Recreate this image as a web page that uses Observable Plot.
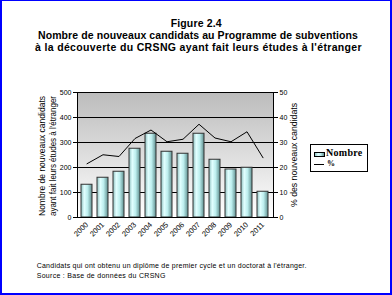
<!DOCTYPE html>
<html><head><meta charset="utf-8">
<script src="https://cdn.jsdelivr.net/npm/d3@7"></script>
<script src="https://cdn.jsdelivr.net/npm/@observablehq/plot@0.6"></script>
<style>
body{margin:0;background:#fff;}
#wrap{position:relative;width:392px;height:295px;overflow:hidden;font-family:"Liberation Sans",Arial,sans-serif;background:#fff;}
#chart{position:absolute;left:0;top:0;}
#border{position:absolute;left:0;top:0;width:392px;height:295px;box-sizing:border-box;border:2px solid #0000ff;border-top-width:1px;pointer-events:none;}
.t{position:absolute;font-weight:bold;font-size:10.5px;line-height:12px;color:#000;white-space:nowrap;}
.c{position:absolute;font-size:7px;line-height:8px;color:#000;white-space:nowrap;}
#legend{position:absolute;left:310px;top:144px;width:56px;height:26px;border:1px solid #000;background:#fff;}
.lg{position:absolute;font-family:"Liberation Serif","Times New Roman",serif;font-weight:bold;color:#000;white-space:nowrap;}
</style>
</head><body>
<div id="wrap">
  <div id="chart"></div>
  <div class="t" id="t1" data-x="170.7" data-w="51" style="top:16.5px">Figure 2.4</div>
  <div class="t" id="t2" data-x="38" data-w="320" style="top:29px">Nombre de nouveaux candidats au Programme de subventions</div>
  <div class="t" id="t3" data-x="35" data-w="327" style="top:40.5px">à la découverte du CRSNG ayant fait leurs études à l'étranger</div>
  <div class="c" id="c1" data-x="36.7" data-w="270" style="top:262px">Candidats qui ont obtenu un diplôme de premier cycle et un doctorat à l'étranger.</div>
  <div class="c" id="c2" data-x="36.7" data-w="129" style="top:272px">Source : Base de données du CRSNG</div>
  <div id="legend">
    <div style="position:absolute;left:3px;top:7px;width:9px;height:3px;border:1px solid #000;background:linear-gradient(90deg,#8fc0c0,#e0ffff 35%,#b8eaea 65%,#5f8f8f);"></div>
    <span class="lg" style="left:15px;top:2px;font-size:10px;letter-spacing:0.3px;line-height:12px;">Nombre</span>
    <div style="position:absolute;left:3px;top:19px;width:10px;height:1px;background:#000;"></div>
    <span class="lg" style="left:16px;top:14px;font-size:8px;line-height:10px;">%</span>
  </div>
  <div id="border"></div>
</div>
<script>
const years = ["2000","2001","2002","2003","2004","2005","2006","2007","2008","2009","2010","2011"];
const nombre = [131,159,183,275,335,263,255,335,231,192,199,103];
const pct = [21.5,25.1,24.4,31.6,35.0,30.3,31.3,37.3,31.8,30.3,34.3,23.9];
const leftTicks = [0,100,200,300,400,500];
const rightTickLabels = [0,10,20,30,40,50];

const data = years.map((y,i)=>({year:y, nombre:nombre[i], pct:pct[i]}));
const pctScale = 500/50;

const chart = Plot.plot({
  width: 392, height: 295,
  marginLeft: 77, marginRight: 119, marginTop: 92, marginBottom: 78,
  style: {fontFamily: "Liberation Sans, Arial, sans-serif", fontSize: "7px", background: "transparent", overflow: "visible"},
  x: {type: "band", domain: years, paddingInner: 0.3, paddingOuter: 0.15},
  y: {domain: [0, 500]},
  marks: [
    Plot.frame({fill: "url(#bgGrad)", stroke: null}),
    Plot.ruleY(leftTicks, {stroke: "#000", strokeWidth: 1}),
    Plot.barY(data, {x: "year", y: "nombre", fill: "url(#barGrad)", stroke: "#333", strokeWidth: 1}),
    Plot.line(data, {x: "year", y: d => d.pct * pctScale, stroke: "#000", strokeWidth: 1}),
    Plot.frame({stroke: "#000", strokeWidth: 1}),
    Plot.axisY({anchor: "left", ticks: leftTicks, tickSize: 4, tickPadding: 2, label: null, fontSize: 7}),
    Plot.axisY({anchor: "right", ticks: leftTicks, tickFormat: (d,i) => String(rightTickLabels[i]), tickSize: 4, tickPadding: 2, label: null, fontSize: 7}),
    Plot.axisX({anchor: "bottom", tickSize: 0, tickPadding: 6, tickRotate: -45, label: null, fontSize: 7.5})
  ]
});
document.getElementById("chart").appendChild(chart);

const svg = d3.select(chart);
const defs = svg.insert("defs", ":first-child");
const bg = defs.append("linearGradient").attr("id","bgGrad").attr("x1",0).attr("y1",0).attr("x2",0).attr("y2",1);
bg.append("stop").attr("offset","0%").attr("stop-color","#bcbcbc");
bg.append("stop").attr("offset","100%").attr("stop-color","#ffffff");
const bar = defs.append("linearGradient").attr("id","barGrad").attr("x1",0).attr("y1",0).attr("x2",1).attr("y2",0);
[["0%","#8fc0c0"],["30%","#e2ffff"],["60%","#bdeeee"],["100%","#5f8f8f"]].forEach(([o,c])=>bar.append("stop").attr("offset",o).attr("stop-color",c));

// axis titles
const yTitle = ["Nombre de nouveaux candidats", "ayant fait leurs études à l'étranger"];
const yTitleX = [41.7, 52.7];
yTitle.forEach((t,i)=>{
  svg.append("text").attr("transform",`translate(${yTitleX[i]},156) rotate(-90)`)
    .attr("text-anchor","middle").attr("dominant-baseline","central")
    .attr("font-size",9).attr("font-family","Liberation Sans, Arial, sans-serif")
    .attr("textLength",120).attr("lengthAdjust","spacingAndGlyphs").text(t);
});
svg.append("text").attr("transform",`translate(294,155) rotate(-90)`)
  .attr("text-anchor","middle").attr("dominant-baseline","central")
  .attr("font-size",9).attr("font-family","Liberation Sans, Arial, sans-serif")
  .attr("textLength",104).attr("lengthAdjust","spacingAndGlyphs").text("% des nouveaux candidats");

// fit HTML text widths
document.querySelectorAll("[data-w]").forEach(el=>{
  const target = +el.dataset.w;
  el.style.left = el.dataset.x + "px";
  const w = el.getBoundingClientRect().width;
  const n = el.textContent.length;
  el.style.letterSpacing = ((target - w) / n) + "px";
});
</script>
</body></html>
